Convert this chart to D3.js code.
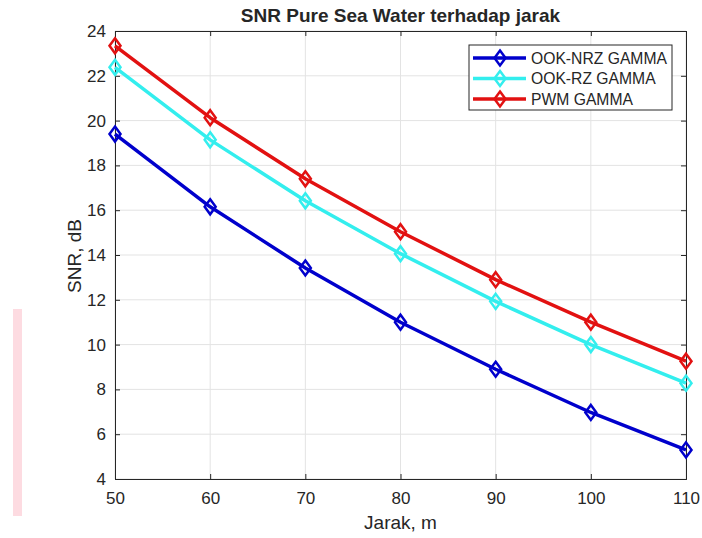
<!DOCTYPE html>
<html>
<head>
<meta charset="utf-8">
<script src="https://cdn.jsdelivr.net/npm/d3@7"></script>
<style>
  body { margin: 0; background: #fff; }
  text { font-family: "Liberation Sans", Arial, sans-serif; fill: #262626; }
</style>
</head>
<body>
<div id="chart"></div>
<script>
// data
var jarak = [50, 60, 70, 80, 90, 100, 110];
var ookNrz = [19.4, 16.15, 13.42, 11.0, 8.9, 6.97, 5.3];
var ookRz = [22.38, 19.14, 16.42, 14.06, 11.93, 10.0, 8.28];
var pwm = [23.34, 20.13, 17.4, 15.04, 12.9, 11.0, 9.26];
var seriesNames = ["OOK-NRZ GAMMA", "OOK-RZ GAMMA", "PWM GAMMA"];
var seriesColors = ["#0000cc", "#33eeee", "#e21111"];
var xTicks = [50, 60, 70, 80, 90, 100, 110];
var yTicks = [4, 6, 8, 10, 12, 14, 16, 18, 20, 22, 24];

var W = 702, H = 538;
var margin = { top: 31, right: 16, bottom: 59, left: 115 },
  width = W - margin.left - margin.right,
  height = H - margin.top - margin.bottom;

var svg = d3.select("#chart").append("svg")
  .attr("width", W).attr("height", H);

// pink strip on the left edge
svg.append("rect")
  .attr("x", 13).attr("y", 309).attr("width", 9).attr("height", 207)
  .attr("fill", "#fddbe1");

var g = svg.append("g")
  .attr("transform", "translate(" + margin.left + "," + margin.top + ")");

var x = d3.scaleLinear().domain([50, 110]).range([0, width]);
var y = d3.scaleLinear().domain([4, 24]).range([height, 0]);

// grid
g.append("g").selectAll("line").data(xTicks).enter().append("line")
  .attr("x1", d => x(d)).attr("x2", d => x(d))
  .attr("y1", 0).attr("y2", height)
  .attr("stroke", "#e3e3e3").attr("stroke-width", 1);
g.append("g").selectAll("line").data(yTicks).enter().append("line")
  .attr("y1", d => y(d)).attr("y2", d => y(d))
  .attr("x1", 0).attr("x2", width)
  .attr("stroke", "#e3e3e3").attr("stroke-width", 1);

// axes (ticks inward)
var xAxis = g.append("g")
  .attr("transform", "translate(0," + height + ")")
  .call(d3.axisBottom(x).tickValues(xTicks).tickSize(-5).tickPadding(13));
var xTop = g.append("g")
  .call(d3.axisTop(x).tickValues(xTicks).tickSize(-5).tickFormat(""));
var yAxis = g.append("g")
  .call(d3.axisLeft(y).tickValues(yTicks).tickSize(-5).tickPadding(9));
var yRight = g.append("g")
  .attr("transform", "translate(" + width + ",0)")
  .call(d3.axisRight(y).tickValues(yTicks).tickSize(-5).tickFormat(""));

[xAxis, xTop, yAxis, yRight].forEach(function (a) {
  a.attr("font-size", null).attr("font-family", null);
  a.select(".domain").attr("stroke", "#262626").attr("stroke-width", 1);
  a.selectAll(".tick line").attr("stroke", "#262626");
  a.selectAll(".tick text")
    .style("font-size", "17px").attr("fill", "#262626");
});

// diamond marker, a bit wider than d3's own
function diamondPath(hw, hh) {
  var p = d3.path();
  p.moveTo(0, -hh); p.lineTo(hw, 0); p.lineTo(0, hh); p.lineTo(-hw, 0); p.closePath();
  return p.toString();
}
var diamond = diamondPath(5.5, 7.5);

// lines + diamonds
var allSeries = [ookNrz, ookRz, pwm];
var line = d3.line().x((d, i) => x(jarak[i])).y(d => y(d));

allSeries.forEach(function (vals, s) {
  g.append("path").datum(vals)
    .attr("d", line)
    .attr("fill", "none")
    .attr("stroke", seriesColors[s])
    .attr("stroke-width", 3.5)
    .attr("stroke-linejoin", "round");
  g.append("g").selectAll("path").data(vals).enter().append("path")
    .attr("d", diamond)
    .attr("transform", (d, i) => "translate(" + x(jarak[i]) + "," + y(d) + ")")
    .attr("fill", "none")
    .attr("stroke", seriesColors[s])
    .attr("stroke-width", 2.5);
});

// legend
var lg = svg.append("g");
lg.append("rect")
  .attr("x", 469).attr("y", 45).attr("width", 203).attr("height", 65)
  .attr("fill", "#fff").attr("stroke", "#262626").attr("stroke-width", 1);
seriesNames.forEach(function (name, s) {
  var ly = 58 + s * 20.5;
  lg.append("line")
    .attr("x1", 473).attr("x2", 526).attr("y1", ly).attr("y2", ly)
    .attr("stroke", seriesColors[s]).attr("stroke-width", 3.5);
  lg.append("path")
    .attr("d", diamond)
    .attr("transform", "translate(500," + ly + ")")
    .attr("fill", "none").attr("stroke", seriesColors[s]).attr("stroke-width", 2.5);
  lg.append("text")
    .attr("x", 531).attr("y", ly + 5.5)
    .style("font-size", "15.7px").text(name);
});

// title and axis labels
svg.append("text")
  .attr("x", margin.left + width / 2).attr("y", 22)
  .attr("text-anchor", "middle")
  .style("font-size", "19px").style("font-weight", "bold")
  .attr("fill", "#000")
  .text("SNR Pure Sea Water terhadap jarak");

svg.append("text")
  .attr("x", margin.left + width / 2).attr("y", 529)
  .attr("text-anchor", "middle")
  .style("font-size", "19px")
  .text("Jarak, m");

svg.append("text")
  .attr("transform", "translate(81,256) rotate(-90)")
  .attr("text-anchor", "middle")
  .style("font-size", "19px")
  .text("SNR, dB");
</script>
</body>
</html>
